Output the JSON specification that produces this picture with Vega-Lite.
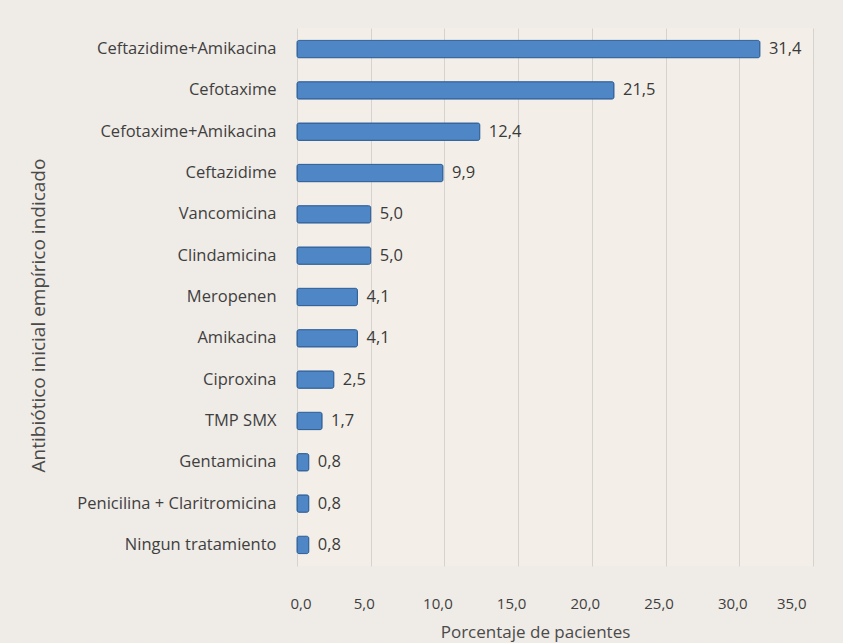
{
  "$schema": "https://vega.github.io/schema/vega-lite/v6.json",
  "autosize": {"type": "none"},
  "width": 516,
  "height": 538,
  "padding": {"left": 297, "top": 28, "right": 30, "bottom": 77},
  "background": "#efebe6",
  "config": {
    "locale": {"number": {"decimal": ",", "thousands": ".", "grouping": [3], "currency": ["", " €"]}},
    "view": {"stroke": null, "fill": "#f3efe8"},
    "font": "Open Sans",
    "text": {"font": "Open Sans"}
  },
  "data": {"values": [
    {"antibiotico": "Ceftazidime+Amikacina", "pct": 31.4},
    {"antibiotico": "Cefotaxime", "pct": 21.5},
    {"antibiotico": "Cefotaxime+Amikacina", "pct": 12.4},
    {"antibiotico": "Ceftazidime", "pct": 9.9},
    {"antibiotico": "Vancomicina", "pct": 5.0},
    {"antibiotico": "Clindamicina", "pct": 5.0},
    {"antibiotico": "Meropenen", "pct": 4.1},
    {"antibiotico": "Amikacina", "pct": 4.1},
    {"antibiotico": "Ciproxina", "pct": 2.5},
    {"antibiotico": "TMP SMX", "pct": 1.7},
    {"antibiotico": "Gentamicina", "pct": 0.8},
    {"antibiotico": "Penicilina + Claritromicina", "pct": 0.8},
    {"antibiotico": "Ningun tratamiento", "pct": 0.8}
  ]},
  "encoding": {
    "y": {
      "field": "antibiotico", "type": "nominal", "sort": null,
      "scale": {"paddingInner": 0.58, "paddingOuter": 0.3},
      "axis": {
        "title": "Antibiótico inicial empírico indicado",
        "titleFont": "Open Sans", "titleFontSize": 19, "titleFontWeight": "normal", "titleColor": "#4a4a4a",
        "titleX": -249, "titleY": 287,
        "labelFont": "Open Sans", "labelFontSize": 16.5, "labelColor": "#3f3f3f", "labelLimit": 320,
        "labelPadding": 21, "ticks": false, "domain": false, "grid": false
      }
    },
    "x": {
      "field": "pct", "type": "quantitative",
      "scale": {"domain": [0, 35], "nice": false},
      "axis": {
        "title": "Porcentaje de pacientes",
        "values": [0, 5, 10, 15, 20, 25, 30, 35],
        "format": ".1f",
        "titleFont": "Open Sans", "titleFontSize": 17, "titleFontWeight": "normal", "titleColor": "#4a4a4a",
        "titlePadding": 13, "titleX": 238,
        "labelFont": "Open Sans", "labelFontSize": 15, "labelColor": "#3f3f3f",
        "labelPadding": 30, "labelOffset": -7, "ticks": false, "domain": false,
        "grid": true, "gridColor": "#d6d3cf", "gridWidth": 1
      }
    }
  },
  "layer": [
    {"mark": {"type": "bar", "color": "#4f86c6", "stroke": "#2f5f98", "strokeWidth": 1, "cornerRadius": 2}},
    {"mark": {"type": "text", "align": "left", "baseline": "middle", "dx": 9, "fontSize": 16.5, "color": "#3a3a3a"},
     "encoding": {"text": {"field": "pct", "type": "quantitative", "format": ".1f"}}}
  ]
}
